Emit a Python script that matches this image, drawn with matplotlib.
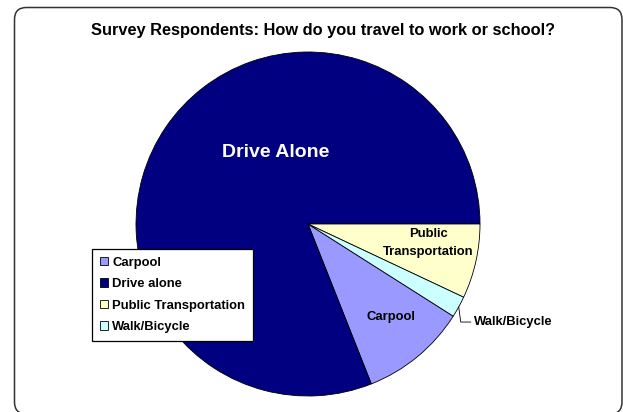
import matplotlib
matplotlib.use('Agg')
import matplotlib.pyplot as plt
from matplotlib.patches import Patch, FancyBboxPatch
import numpy as np

plt.rcParams['font.family'] = ['Liberation Sans', 'DejaVu Sans']
plt.rcParams['font.weight'] = 'bold'

# survey answers, in the order Excel listed them
modes = ['Carpool', 'Drive alone', 'Public Transportation', 'Walk/Bicycle']
share = [10, 81, 7, 2]
colors = ['#9999FF', '#000080', '#FFFFCC', '#CCFFFF']

W, H = 623, 412
fig = plt.figure(figsize=(W / 100, H / 100), dpi=100)
ax = fig.add_axes([0, 0, 1, 1])

cx, cy, r = 308, H - 224, 172
# first slice (Carpool) starts right after Public + Walk going clockwise from 3 o'clock
start = -360 * (share[2] + share[3]) / sum(share)
wedges, _ = ax.pie(share, colors=colors, startangle=start, counterclock=False,
                   center=(cx, cy), radius=r,
                   wedgeprops=dict(edgecolor='black', linewidth=0.6))

# pie() resets the limits, so set pixel-sized limits afterwards
ax.set_xlim(0, W)
ax.set_ylim(0, H)
ax.set_aspect('equal')
ax.axis('off')

# rounded chart border
frame = FancyBboxPatch((14.5, -2), 607.5, H - 7.5 + 2,
                       boxstyle='round,pad=0,rounding_size=12',
                       facecolor='white', edgecolor='#333333', linewidth=1.1,
                       clip_on=False, zorder=0)
ax.add_patch(frame)

fig.text(323.5 / W, 1 - 30 / H,
         'Survey Respondents: How do you travel to work or school?',
         ha='center', va='center', fontsize=11.8, fontweight='bold')

ax.text(cx - 0.19 * r, cy + 0.415 * r, 'Drive Alone', color='white',
        ha='center', va='center', fontsize=14, fontweight='bold')
ax.text(cx + 0.485 * r, cy - 0.54 * r, 'Carpool', color='black',
        ha='center', va='center', fontsize=9.4, fontweight='bold')
ax.text(cx + 0.70 * r, cy - 0.11 * r, 'Public\nTransportation', color='black',
        ha='center', va='center', fontsize=9.4, fontweight='bold', linespacing=1.7)

# Walk/Bicycle sits outside with a leader line
w = wedges[3]
mid = np.deg2rad((w.theta1 + w.theta2) / 2)
px, py = cx + r * np.cos(mid), cy + r * np.sin(mid)
ty = cy - 0.57 * r
ax.plot([px, px + 2, px + 12], [py, ty, ty], color='black', linewidth=0.6)
ax.text(cx + 0.965 * r, ty, 'Walk/Bicycle', ha='left', va='center',
        fontsize=9.4, fontweight='bold')

handles = [Patch(facecolor=c, edgecolor='black', linewidth=0.6) for c in colors]
leg = ax.legend(handles, modes, loc='upper left',
                bbox_to_anchor=(92 / W, 1 - 249 / H), bbox_transform=fig.transFigure,
                prop=dict(size=9.4, weight='bold'), handlelength=0.6, handleheight=0.6,
                handletextpad=0.35, labelspacing=0.72, borderpad=0.6,
                borderaxespad=0, fancybox=False, framealpha=1,
                edgecolor='black')
leg.get_frame().set_linewidth(0.9)

fig.savefig('out.png', dpi=100)
